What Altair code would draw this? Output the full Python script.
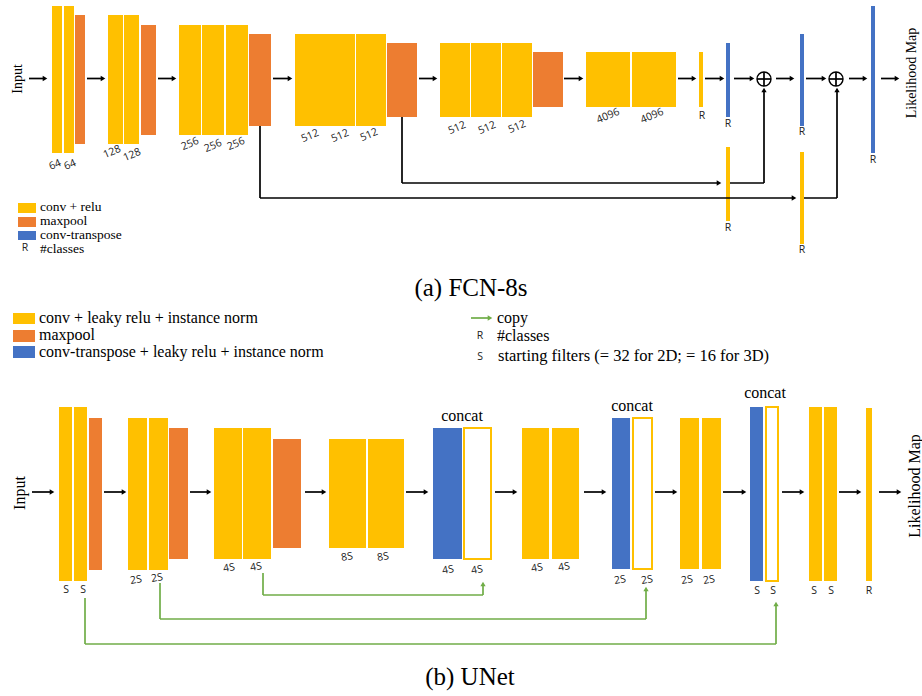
import altair as alt
import pandas as pd

W, H = 922, 696

# ---------------- blocks (layers) ----------------
# (a) FCN-8s
fcn_x0 = [52, 64, 75, 108, 124, 141, 179, 202, 226, 249, 295, 325, 356, 387, 440, 471, 502, 533, 586, 632, 699, 726, 800, 871, 726, 800]
fcn_x1 = [62, 74, 85, 123, 139, 156, 201, 224, 248, 271, 325, 355, 386, 417, 470, 501, 532, 563, 630, 676, 703, 730, 804, 875, 730, 804]
fcn_y0 = [6, 6, 15, 15, 15, 25, 25, 25, 25, 34, 34, 34, 34, 43, 43, 43, 43, 52, 52, 52, 52, 43, 34, 6, 147, 152]
fcn_y1 = [153, 153, 144, 144, 144, 135, 135, 135, 135, 126, 126, 126, 126, 117, 117, 117, 117, 107, 107, 107, 107, 117, 126, 153, 221, 244]
fcn_kind = ["conv", "conv", "pool", "conv", "conv", "pool", "conv", "conv", "conv", "pool",
            "conv", "conv", "conv", "pool", "conv", "conv", "conv", "pool", "conv", "conv",
            "conv", "tconv", "tconv", "tconv", "conv", "conv"]

# (b) UNet
unet_x0 = [59, 74, 89, 128, 149, 169, 214, 243, 273, 329, 368, 433, 522, 552, 612, 680, 702, 750, 809, 824, 866]
unet_x1 = [72, 87, 102, 147, 168, 188, 242, 271, 301, 366, 404, 462, 549, 579, 630, 699, 721, 763, 822, 837, 872]
unet_y0 = [407, 407, 418, 418, 418, 428, 428, 428, 439, 439, 439, 428, 428, 428, 418, 418, 418, 407, 407, 407, 408]
unet_y1 = [581, 581, 570, 570, 570, 559, 559, 559, 548, 548, 548, 559, 559, 559, 569, 569, 569, 581, 581, 581, 581]
unet_kind = ["conv", "conv", "pool", "conv", "conv", "pool", "conv", "conv", "pool", "conv", "conv",
             "tconv", "conv", "conv", "tconv", "conv", "conv", "tconv", "conv", "conv", "conv"]

# copied (concat) blocks, drawn as outlines
copy_x0 = [464, 633, 766]
copy_x1 = [491, 652, 778]
copy_y0 = [428, 418, 407]
copy_y1 = [559, 569, 581]

# legend swatches
sw_x0 = [18, 18, 18, 13, 13, 13]
sw_x1 = [36, 36, 36, 35, 35, 35]
sw_y0 = [203, 217, 231, 313, 330, 346]
sw_y1 = [213, 227, 240, 324, 342, 358]
sw_kind = ["conv", "pool", "tconv", "conv", "pool", "tconv"]

kinds = ["conv", "pool", "tconv"]
kind_colors = ["#FFC000", "#ED7D31", "#4472C4"]

# ---------------- arrows ----------------
fcn_arrow_x0 = [29, 87, 158, 273, 419, 564, 678, 705, 734, 776, 806, 849, 881]
fcn_arrow_x1 = [48, 106, 177, 293, 438, 584, 697, 725, 755, 795, 827, 868, 900]
fcn_arrow_y = 78.5
unet_arrow_x0 = [32, 104, 190, 305, 406, 495, 584, 655, 723, 782, 839, 879]
unet_arrow_x1 = [55, 127, 212, 327, 429, 518, 607, 678, 747, 805, 862, 902]
unet_arrow_y = 492

# skip connections: polylines (x list, y list, color, arrowhead direction at end)
skip_paths = [
    ([260, 260, 797], [126, 198, 198], "black", "right"),
    ([804, 837, 837], [198, 198, 87], "black", "up"),
    ([402, 402, 722], [117, 183, 183], "black", "right"),
    ([730, 764, 764], [183, 183, 87], "black", "up"),
    ([263, 263, 483, 483], [573, 595, 595, 581], "#70AD47", "up"),
    ([160, 160, 646, 646], [583, 619, 619, 586], "#70AD47", "up"),
    ([85, 85, 776, 776], [598, 644, 644, 601], "#70AD47", "up"),
    ([471, 493], [318, 318], "#70AD47", "right"),
]

# sum nodes
plus_x = [764, 836]
plus_y = [79, 79]
plus_r = 7

# ---------------- texts ----------------
fcn_num_text = ["64", "64", "128", "128", "256", "256", "256", "512", "512", "512",
                "512", "512", "512", "4096", "4096"]
fcn_num_x = [55, 70, 112, 132, 190, 213, 236, 310, 340, 369, 457, 487, 517, 608, 652]
fcn_num_y = [165, 165, 152, 155, 144, 146, 144, 136, 136, 135, 128, 128, 127, 116, 116]

fcn_r_x = [702, 728, 802, 873, 728, 802, 25]
fcn_r_y = [116, 124, 132, 160, 228, 250, 248]

unet_num_text = ["S", "S", "2S", "2S", "4S", "4S", "8S", "8S", "4S", "4S", "4S", "4S",
                 "2S", "2S", "2S", "2S", "S", "S", "S", "S", "R", "R", "S"]
unet_num_x = [66, 83, 136, 157, 229, 256, 347, 383, 448, 477, 537, 564,
              620, 647, 687, 709, 757, 773, 814, 831, 869, 480, 480]
unet_num_y = [590, 590, 580, 578, 568, 567, 557, 557, 570, 570, 568, 567,
              580, 580, 580, 580, 591, 591, 591, 591, 591, 336, 357]

serif_c_text = ["Input", "Likelihood Map", "(a) FCN-8s", "Input", "Likelihood Map",
                "concat", "concat", "concat", "(b) UNet"]
serif_c_x = [18, 912, 471, 20, 915, 462, 632, 765, 470]
serif_c_y = [79, 73, 288, 493, 486, 416, 406, 393, 677]
serif_c_size = [14, 14, 25, 16, 16, 16, 16, 16, 25]
serif_c_angle = [270, 270, 0, 270, 270, 0, 0, 0, 0]

serif_l_text = ["conv + relu", "maxpool", "conv-transpose", "#classes",
                "conv + leaky relu + instance norm", "maxpool",
                "conv-transpose + leaky relu + instance norm",
                "copy", "#classes", "starting filters (= 32 for 2D; = 16 for 3D)"]
serif_l_x = [40, 40, 40, 40, 39, 39, 39, 497, 497, 498]
serif_l_y = [207, 221, 235, 249, 318, 335, 352, 318, 336, 356]
serif_l_size = [13.5, 13.5, 13.5, 13.5, 16, 16, 16, 16, 16, 16.5]

# ---------------- build tables ----------------
xs = alt.Scale(domain=[0, W], nice=False, zero=False)
ys = alt.Scale(domain=[0, H], nice=False, zero=False, reverse=True)

blocks = pd.DataFrame({
    "x0": fcn_x0 + unet_x0 + sw_x0,
    "x1": fcn_x1 + unet_x1 + sw_x1,
    "y0": fcn_y0 + unet_y0 + sw_y0,
    "y1": fcn_y1 + unet_y1 + sw_y1,
    "kind": fcn_kind + unet_kind + sw_kind,
})
copies = pd.DataFrame({"x0": copy_x0, "x1": copy_x1, "y0": copy_y0, "y1": copy_y1})

seg_rows, head_rows = [], []
for a0, a1 in zip(fcn_arrow_x0, fcn_arrow_x1):
    seg_rows.append(dict(x0=a0, y0=fcn_arrow_y, x1=a1 - 3, y1=fcn_arrow_y, c="black"))
    head_rows.append(dict(x=a1 - 3, y=fcn_arrow_y, c="black", shape="triangle-right"))
for a0, a1 in zip(unet_arrow_x0, unet_arrow_x1):
    seg_rows.append(dict(x0=a0, y0=unet_arrow_y, x1=a1 - 3, y1=unet_arrow_y, c="black"))
    head_rows.append(dict(x=a1 - 3, y=unet_arrow_y, c="black", shape="triangle-right"))
for px, py, col, d in skip_paths:
    for i in range(len(px) - 1):
        x0, y0, x1, y1 = px[i], py[i], px[i + 1], py[i + 1]
        if i == len(px) - 2:
            if d == "right":
                x1 = x1 - 3
            else:
                y1 = y1 + 3
        seg_rows.append(dict(x0=x0, y0=y0, x1=x1, y1=y1, c=col))
    hx, hy = px[-1], py[-1]
    if d == "right":
        head_rows.append(dict(x=hx - 3, y=hy, c=col, shape="triangle-right"))
    else:
        head_rows.append(dict(x=hx, y=hy + 3, c=col, shape="triangle-up"))
for cx, cy in zip(plus_x, plus_y):
    seg_rows.append(dict(x0=cx - plus_r, y0=cy, x1=cx + plus_r, y1=cy, c="black"))
    seg_rows.append(dict(x0=cx, y0=cy - plus_r, x1=cx, y1=cy + plus_r, c="black"))
segs = pd.DataFrame(seg_rows)
heads = pd.DataFrame(head_rows)
circles = pd.DataFrame({"x": plus_x, "y": plus_y})

nums = pd.DataFrame({
    "x": fcn_num_x + fcn_r_x + unet_num_x,
    "y": fcn_num_y + fcn_r_y + unet_num_y,
    "text": fcn_num_text + ["R"] * len(fcn_r_x) + unet_num_text,
    "angle": [337] * len(fcn_num_x) + [0] * len(fcn_r_x)
    + [0 if t in ("S", "R") else 350 for t in unet_num_text],
})
serif_c = pd.DataFrame({"x": serif_c_x, "y": serif_c_y, "text": serif_c_text,
                        "size": serif_c_size, "angle": serif_c_angle})
serif_l = pd.DataFrame({"x": serif_l_x, "y": serif_l_y, "text": serif_l_text,
                        "size": serif_l_size})

X = lambda f: alt.X(f, scale=xs, axis=None)
Y = lambda f: alt.Y(f, scale=ys, axis=None)

rect_layer = alt.Chart(blocks).mark_rect().encode(
    x=X("x0:Q"), x2="x1:Q", y=Y("y0:Q"), y2="y1:Q",
    color=alt.Color("kind:N", scale=alt.Scale(domain=kinds, range=kind_colors), legend=None),
)
copy_layer = alt.Chart(copies).mark_rect(filled=False, stroke="#FFC000", strokeWidth=2).encode(
    x=X("x0:Q"), x2="x1:Q", y=Y("y0:Q"), y2="y1:Q",
)
seg_layer = alt.Chart(segs).mark_rule(strokeWidth=1.7).encode(
    x=X("x0:Q"), x2="x1:Q", y=Y("y0:Q"), y2="y1:Q",
    color=alt.Color("c:N", scale=None),
)
head_layer = alt.Chart(heads).mark_point(filled=True, size=28, opacity=1).encode(
    x=X("x:Q"), y=Y("y:Q"),
    color=alt.Color("c:N", scale=None),
    shape=alt.Shape("shape:N", scale=None),
)
circle_layer = alt.Chart(circles).mark_point(shape="circle", filled=False, size=196,
                                              color="black", strokeWidth=1.4, opacity=1).encode(
    x=X("x:Q"), y=Y("y:Q"),
)
num_layer = alt.Chart(nums).mark_text(font="Open Sans", fontSize=10.5, color="#222222",
                                      align="center", baseline="middle").encode(
    x=X("x:Q"), y=Y("y:Q"), text="text:N", angle=alt.Angle("angle:Q", scale=None),
)
serif_c_layer = alt.Chart(serif_c).mark_text(font="Liberation Serif", color="black",
                                             align="center", baseline="middle").encode(
    x=X("x:Q"), y=Y("y:Q"), text="text:N",
    size=alt.Size("size:Q", scale=None), angle=alt.Angle("angle:Q", scale=None),
)
serif_l_layer = alt.Chart(serif_l).mark_text(font="Liberation Serif", color="black",
                                             align="left", baseline="middle").encode(
    x=X("x:Q"), y=Y("y:Q"), text="text:N",
    size=alt.Size("size:Q", scale=None),
)

chart = alt.layer(
    rect_layer, copy_layer, seg_layer, head_layer, circle_layer,
    num_layer, serif_c_layer, serif_l_layer,
).properties(
    width=W, height=H, padding=0, autosize=alt.AutoSizeParams(type="none"),
    background="white",
).configure_view(stroke=None)

chart.save("out.html", embed_options={"renderer": "svg", "actions": False})
